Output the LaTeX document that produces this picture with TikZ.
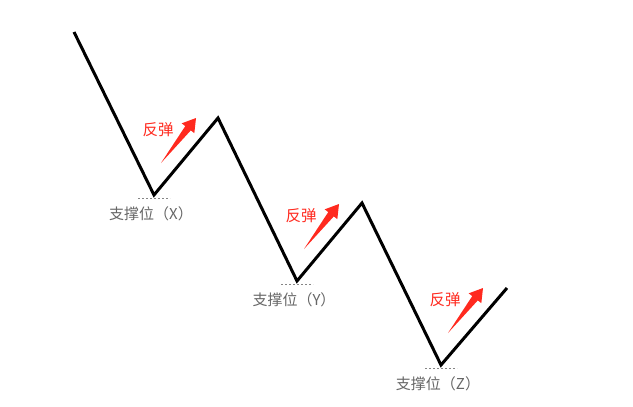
\documentclass[tikz,border=0pt]{standalone}
\usepackage{fontspec}
\newfontfamily\cjk{Noto Sans CJK SC}
\usetikzlibrary{positioning,calc}
\definecolor{bounce}{HTML}{FF2A1F}
\definecolor{level}{HTML}{666666}
\tikzset{
	every node/.style={font=\cjk\fontsize{15}{18}\selectfont},
	price/.style={line width=3pt, line join=miter},
	support/.style={draw=level!80, dash pattern=on 2pt off 2pt, line width=0.7pt},
	lvl/.style={text=level},
	bouncetxt/.style={text=bounce, font=\cjk\fontsize{15.5}{18}\selectfont}
}
\begin{document}
\begin{tikzpicture}[x=1pt,y=-1pt]
	\useasboundingbox (0,0) rectangle (633,407);
	% Price path
	\coordinate (s) at (74,32);
	\coordinate (x) at (154,195);
	\coordinate (p1) at (218,118);
	\coordinate (y) at (297,281);
	\coordinate (p2) at (362,203);
	\coordinate (z) at (441,365);
	\coordinate (e) at (507,288);
	\draw[price] (s) -- (x) -- (p1) -- (y) -- (p2) -- (z) -- (e);
	
	% Support levels and rebounds
	\foreach \lo/\sym in {x/X, y/Y, z/Z}{
		\draw[support] ($(\lo)+(-16,3)$) -- ($(\lo)+(16,3)$);
		\node[lvl] (l\lo) at ($(\lo)+(-3,19)$) {支撑位（\sym）};
		\coordinate (t\lo) at ($(\lo)+(7,-32)$);
		\coordinate (h\lo) at ($(\lo)+(42,-77)$);
		\coordinate (b\lo) at ($(h\lo)!13pt!(t\lo)$);
		\fill[bounce] (t\lo) -- ($(b\lo)!3.5pt!90:(h\lo)$) -- ($(b\lo)!8pt!90:(h\lo)$) -- (h\lo)
			-- ($(b\lo)!8pt!-90:(h\lo)$) -- ($(b\lo)!3.5pt!-90:(h\lo)$) -- cycle;
		\node[bouncetxt] (r\lo) at ($(\lo)+(4,-65)$) {反弹};
	}
\end{tikzpicture}
\end{document}
